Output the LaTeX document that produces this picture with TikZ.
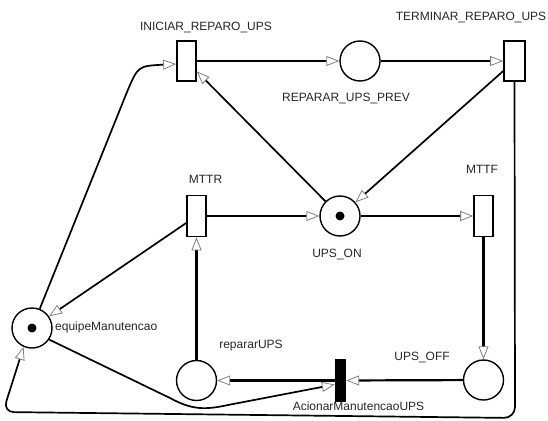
\documentclass[tikz,border=0pt]{standalone}
\usepackage{fontspec}
\setmainfont{Liberation Sans}
\usetikzlibrary{arrows.meta}
\begin{document}
\begin{tikzpicture}[x=1pt,y=-1pt,
 place/.style={circle,draw,line width=1.4pt,minimum size=40pt,inner sep=0pt},
 trans/.style={rectangle,draw,line width=1.6pt,fill=white,minimum width=19pt,minimum height=40pt,inner sep=0pt},
 blacktrans/.style={rectangle,fill=black,minimum width=11pt,minimum height=43pt,inner sep=0pt},
 token/.style={circle,fill=black,minimum size=9pt,inner sep=0pt},
 lbl/.style={font=\fontsize{12}{14}\selectfont,inner sep=0pt,text=black!85},
 arc/.style={line width=2.2pt,-{Triangle[length=13pt,width=10pt,line width=0.8pt,color=gray,fill=white]}},
 thinarc/.style={arc,line width=1.7pt},
]
\useasboundingbox (0,0) rectangle (548,420);
% places and transitions
\node[trans] (ini) at (186.5,61) {};
\node[place] (prev) at (360,61) {};
\node[trans,minimum width=21pt] (term) at (514.5,61) {};
\node[trans,minimum height=41pt] (mttr) at (196.5,216) {};
\node[place] (on) at (340,216) {};
\node[token] (ontok) at (on) {};
\node[trans,minimum height=41pt] (mttf) at (483.5,216) {};
\node[place] (eq) at (32,328) {};
\node[token] (eqtok) at (eq) {};
\node[place] (rep) at (196.5,380.5) {};
\node[place] (off) at (483.5,380) {};
\node[blacktrans] (ac) at (340.5,380.5) {};
% labels
\node[lbl] (l1) at (206,28) {INICIAR\_REPARO\_UPS};
\node[lbl] (l2) at (471,18) {TERMINAR\_REPARO\_UPS};
\node[lbl] (l3) at (346,99) {REPARAR\_UPS\_PREV};
\node[lbl] (l4) at (205.5,179) {MTTR};
\node[lbl] (l5) at (482,169) {MTTF};
\node[lbl] (l6) at (337,254) {UPS\_ON};
\node[lbl,anchor=west] (l7) at (55,327) {equipeManutencao};
\node[lbl] (l8) at (251,346) {repararUPS};
\node[lbl] (l9) at (422,357) {UPS\_OFF};
\node[lbl] (l10) at (358.5,406) {AcionarManutencaoUPS};
% arcs
\draw[arc] (ini) -- (prev);
\draw[arc] (prev) -- (term);
\draw[thinarc] (term) -- (on);
\draw[thinarc] (on) -- (ini);
\draw[arc] (mttr) -- (on);
\draw[arc] (on) -- (mttf);
\draw[arc] (mttf) -- (off);
\draw[arc] (off) -- (ac);
\draw[arc] (ac) -- (rep);
\draw[arc] (rep) -- (mttr);
\draw[thinarc] (mttr) -- (eq);
\draw[thinarc] (eq.68) -- (127,92) .. controls (138,66) .. ([yshift=-3pt]ini.west);
\draw[thinarc] (eq.-34) -- (170,398) .. controls (192,410) and (205,410) .. (228,405) -- ([yshift=-4pt]ac.west);
\draw[thinarc,rounded corners=11pt] (term.south) -- (515,418) -- (3,412) -- (eq.246);
\end{tikzpicture}
\end{document}
